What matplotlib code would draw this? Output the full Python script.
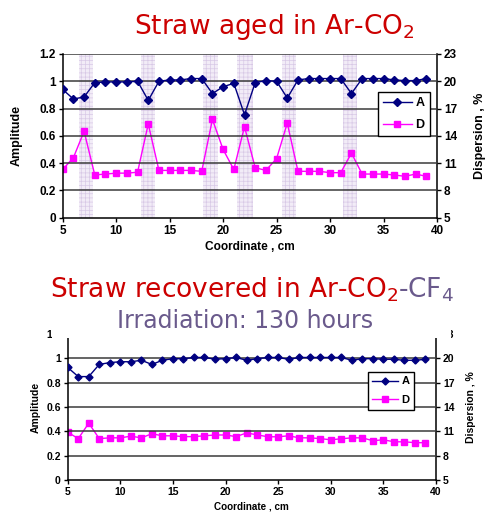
import numpy as np
import matplotlib
matplotlib.use('Agg')
import matplotlib.pyplot as plt
from matplotlib.patches import Rectangle
from matplotlib.text import Annotation

matplotlib.rcParams.update({'font.family': ['Liberation Sans', 'DejaVu Sans'],
                            'font.weight': 'bold',
                            'mathtext.default': 'regular',
                            'hatch.linewidth': 0.5})

coord = list(range(5, 40))

# aged straw (Ar-CO2)
amp_aged = [0.94, 0.87, 0.885, 0.99, 0.995, 0.995, 0.995, 1.0, 0.86, 1.0,
            1.01, 1.01, 1.02, 1.02, 0.91, 0.96, 0.985, 0.755, 0.99, 1.005,
            1.0, 0.877, 1.01, 1.02, 1.02, 1.02, 1.02, 0.91, 1.02, 1.02,
            1.02, 1.01, 1.005, 1.005, 1.02]
disp_aged = [10.3, 11.6, 14.5, 9.7, 9.8, 9.9, 9.9, 10.0, 15.3, 10.2,
             10.2, 10.2, 10.2, 10.1, 15.8, 12.5, 10.3, 15.0, 10.5, 10.2,
             11.5, 15.4, 10.1, 10.1, 10.1, 9.95, 9.95, 12.1, 9.8, 9.8,
             9.8, 9.7, 9.55, 9.8, 9.55]
# shaded coordinate ranges (weak spots)
bands = [(6.5, 7.85), (12.3, 13.65), (18.15, 19.5), (21.3, 22.8), (25.5, 26.85), (31.2, 32.55)]

# recovered straw (Ar-CO2-CF4)
amp_rec = [0.925, 0.85, 0.85, 0.95, 0.965, 0.972, 0.972, 0.984, 0.95, 0.984,
           0.997, 0.997, 1.007, 1.007, 0.993, 0.997, 1.007, 0.984, 0.997, 1.007,
           1.007, 0.992, 1.007, 1.007, 1.007, 1.007, 1.007, 0.984, 0.997, 0.997,
           0.992, 0.992, 0.984, 0.984, 0.992]
disp_rec = [10.9, 10.1, 12.0, 10.1, 10.2, 10.2, 10.4, 10.2, 10.7, 10.45,
            10.45, 10.35, 10.35, 10.45, 10.55, 10.55, 10.35, 10.8, 10.57, 10.33,
            10.33, 10.45, 10.2, 10.2, 10.1, 9.96, 10.08, 10.2, 10.2, 9.84,
            9.96, 9.71, 9.71, 9.6, 9.6]

amp_ticks = [0, 0.2, 0.4, 0.6, 0.8, 1, 1.2]
amp_labels = ['0', '0.2', '0.4', '0.6', '0.8', '1', '1.2']
disp_ticks = [5, 8, 11, 14, 17, 20, 23]
x_ticks = [5, 10, 15, 20, 25, 30, 35, 40]

NAVY = '#000080'
MAG = '#ff00ff'
GREY_PURPLE = '#6a5a8c'


def panel(rect, amp, disp, fs, lab_fs, leg_box, ms, pads, shade=None):
    ax = fig.add_axes(rect)
    ax2 = ax.twinx()
    ax.set_zorder(ax2.get_zorder() + 1)
    ax.patch.set_visible(False)
    ax.set_xlim(5, 40)
    ax.set_ylim(0, 1.2)
    ax2.set_ylim(5, 23)
    if shade:
        for a, b in shade:
            ax2.add_patch(Rectangle((a, 5), b - a, 18, facecolor='#f2ecf7', edgecolor='#d8c9e6',
                                    hatch='++++', linewidth=0, zorder=0))
    for t in amp_ticks[1:]:
        ax.axhline(t, color='#3a3a3a', lw=1.1, zorder=1)
    l2, = ax2.plot(coord, disp, color=MAG, marker='s', ms=ms, lw=1, label='D', zorder=3)
    l1, = ax.plot(coord, amp, color=NAVY, marker='D', ms=ms * 0.85, lw=1, label='A', zorder=3)
    ax.set_yticks(amp_ticks)
    ax.set_yticklabels(amp_labels)
    ax2.set_yticks(disp_ticks)
    ax.set_xticks(x_ticks)
    for a in (ax, ax2):
        a.tick_params(labelsize=fs, width=1, length=3, direction='out', pad=2)
        a.spines['top'].set_visible(False)
        for s in ('left', 'right', 'bottom'):
            a.spines[s].set_linewidth(1.1)
    ax.spines['right'].set_visible(False)
    ax2.spines['left'].set_visible(False)
    ax2.spines['bottom'].set_visible(False)
    ax.set_ylabel('Amplitude', fontsize=lab_fs, fontweight='bold', labelpad=pads[0])
    ax2.set_ylabel('Dispersion , %', fontsize=lab_fs, fontweight='bold', labelpad=pads[1])
    ax.set_xlabel('Coordinate , cm', fontsize=lab_fs * 0.95, fontweight='bold', labelpad=3)
    leg = ax.legend([l1, l2], ['A', 'D'], loc='upper left', bbox_to_anchor=leg_box,
                    bbox_transform=fig.transFigure, fancybox=False, framealpha=1,
                    edgecolor='black', handlelength=2.3, fontsize=fs + 0.5,
                    borderpad=0.4, labelspacing=0.8, handletextpad=0.3, borderaxespad=0)
    leg.get_frame().set_linewidth(1)
    return ax, ax2


fig = plt.figure(figsize=(4.89, 5.17), dpi=100)

W, H = 489.0, 517.0
panel([62.7 / W, 1 - 217.7 / H, (437 - 62.7) / W, (217.7 - 54) / H],
      amp_aged, disp_aged, 8.5, 9, (378 / W, 1 - 92 / H), 4.5, (12, 12), shade=bands)
panel([67.7 / W, 1 - 480 / H, (436 - 67.7) / W, (480 - 334) / H],
      amp_rec, disp_rec, 7.5, 7.5, (368 / W, 1 - 372 / H), 4.2, (4, 8))

fig.text(274 / W, 1 - 27 / H, 'Straw aged in Ar-CO$_2$', color='#cc0000', fontsize=19,
         family='DejaVu Sans', fontweight='normal', ha='center', va='center')

# white strip behind the lower titles (hides the top tick labels as in the original)
fig.patches.append(Rectangle((52 / W, 1 - 338 / H), (451 - 52) / W, 70 / H, transform=fig.transFigure,
                             facecolor='white', edgecolor='none', zorder=5))
t1 = fig.text(50 / W, 1 - 297 / H, 'Straw recovered in Ar-CO$_2$', color='#cc0000', fontsize=19,
              family='DejaVu Sans', fontweight='normal', ha='left', va='baseline', zorder=6)
t2 = Annotation('-CF$_4$', xy=(1, 0), xycoords=t1, va='bottom', ha='left', color=GREY_PURPLE,
                fontsize=19, family='DejaVu Sans', fontweight='normal', annotation_clip=False)
t2.set_zorder(6)
fig.add_artist(t2)
fig.text(245 / W, 1 - 328 / H, 'Irradiation: 130 hours', color=GREY_PURPLE, fontsize=17,
         family='DejaVu Sans', fontweight='normal', ha='center', va='baseline', zorder=6)

fig.savefig('out.png', dpi=100)
